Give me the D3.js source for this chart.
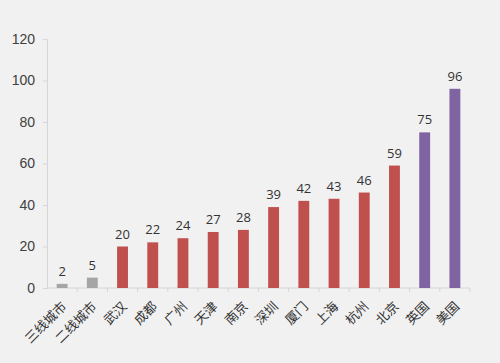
<!DOCTYPE html>
<html>
<head>
<meta charset="utf-8">
<script src="https://cdn.jsdelivr.net/npm/d3@7"></script>
<style>
  body { margin: 0; background: #f1f1f1; }
  svg { display: block; }
</style>
</head>
<body>
<svg id="chart"></svg>
<script>
const cities = ["三线城市", "二线城市", "武汉", "成都", "广州", "天津", "南京",
                "深圳", "厦门", "上海", "杭州", "北京", "英国", "美国"];
const values = [2, 5, 20, 22, 24, 27, 28, 39, 42, 43, 46, 59, 75, 96];
const groups = ["tier", "tier", "city", "city", "city", "city", "city",
                "city", "city", "city", "city", "city", "country", "country"];
const yTicks = [0, 20, 40, 60, 80, 100, 120];

const width = 500, height = 363;
const margin = {top: 39, right: 30, bottom: 75, left: 47};
const colors = {tier: "#a5a5a5", city: "#c0504d", country: "#8064a2"};

const svg = d3.select("#chart").attr("width", width).attr("height", height);

const x = d3.scaleBand()
    .domain(cities)
    .range([margin.left, width - margin.right])
    .paddingInner(0.64)
    .paddingOuter(0.32);

const y = d3.scaleLinear()
    .domain([0, 120])
    .range([height - margin.bottom, margin.top]);

// y axis
const yAxis = svg.append("g")
    .attr("transform", `translate(${margin.left},0)`)
    .call(d3.axisLeft(y).tickValues(yTicks).tickSize(4).tickPadding(8));
yAxis.select(".domain").attr("stroke", "#d6d6d6");
yAxis.selectAll("line").attr("stroke", "#d6d6d6");
yAxis.selectAll("text")
    .attr("fill", "#404040")
    .style("font", "14px 'Liberation Sans', Arial, sans-serif");

// x axis line + ticks between bars
const base = y(0);
const xg = svg.append("g");
xg.append("line")
    .attr("x1", margin.left).attr("x2", width - margin.right)
    .attr("y1", base).attr("y2", base)
    .attr("stroke", "#d6d6d6");
const step = x.step();
xg.selectAll("line.tick")
    .data(cities)
    .enter().append("line")
    .attr("class", "tick")
    .attr("x1", d => x(d) + x.bandwidth() / 2 + step / 2)
    .attr("x2", d => x(d) + x.bandwidth() / 2 + step / 2)
    .attr("y1", base).attr("y2", base + 4)
    .attr("stroke", "#d6d6d6");

// bars
svg.append("g")
    .selectAll("rect")
    .data(cities)
    .enter().append("rect")
    .attr("x", d => x(d))
    .attr("y", (d, i) => y(values[i]))
    .attr("width", x.bandwidth())
    .attr("height", (d, i) => y(0) - y(values[i]))
    .attr("fill", (d, i) => colors[groups[i]]);

// value labels
svg.append("g")
    .attr("text-anchor", "middle")
    .attr("fill", "#333")
    .style("font", "13px 'Open Sans', 'Liberation Sans', sans-serif")
    .selectAll("text")
    .data(cities)
    .enter().append("text")
    .attr("x", d => x(d) + x.bandwidth() / 2)
    .attr("y", (d, i) => y(values[i]) - 8)
    .text((d, i) => values[i]);

// category labels, rotated
svg.append("g")
    .attr("text-anchor", "end")
    .attr("fill", "#333")
    .style("font", "13px 'Noto Sans CJK SC', sans-serif")
    .selectAll("text")
    .data(cities)
    .enter().append("text")
    .attr("transform", d => `translate(${x(d) + x.bandwidth() / 2 + 2},${base + 16}) rotate(-45)`)
    .attr("dy", "0.35em")
    .text(d => d);
</script>
</body>
</html>
